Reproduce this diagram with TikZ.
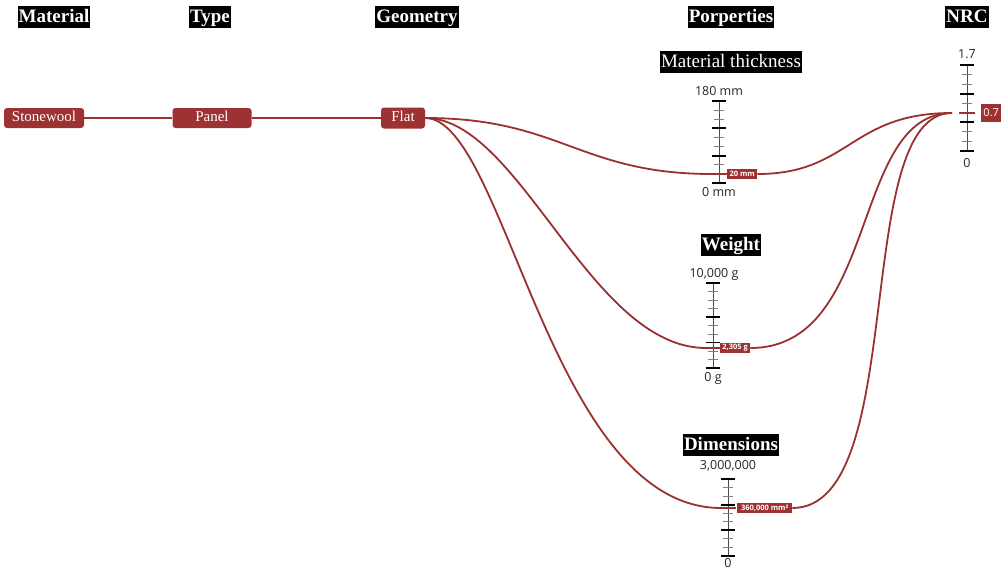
\documentclass[tikz,border=0pt]{standalone}
\usepackage{fontspec}
\setmainfont{Liberation Serif}
\newfontfamily\axfont{Open Sans}
\usetikzlibrary{calc}
\definecolor{wine}{HTML}{9E3232}
\definecolor{wirecol}{HTML}{9A3030}

% vertical gauge: #1 x, #2 top y, #3 bottom y, #4 intervals, #5 major tick indices
\newcommand\gaugeaxis[5]{%
  \draw[axline] (#1,#2) -- (#1,#3);
  \foreach \k in {0,...,#4}{%
    \draw[minortick] ({#1-5},{#3-(#3-#2)*\k/#4}) -- ({#1+5},{#3-(#3-#2)*\k/#4});}
  \foreach \k in {#5}{%
    \draw[majortick] ({#1-7},{#3-(#3-#2)*\k/#4}) -- ({#1+7},{#3-(#3-#2)*\k/#4});}
}

\begin{document}
\begin{tikzpicture}[x=1pt,y=-1pt,
  hdr/.style={fill=black,text=white,font=\bfseries\fontsize{19}{19}\selectfont,
    inner xsep=1pt,inner ysep=2pt,text height=14pt,text depth=4pt},
  subhdr/.style={hdr,font=\fontsize{19}{19}\selectfont},
  cat/.style={fill=wine,text=white,rounded corners=3pt,font=\fontsize{15}{15}\selectfont,
    minimum height=20pt,inner xsep=2pt,text height=10pt,text depth=3pt},
  wire/.style={draw=wirecol,line width=1.8pt},
  val/.style={fill=wine,text=white,font=\axfont\bfseries\fontsize{7.5}{7.5}\selectfont,
    inner xsep=2pt,inner ysep=1pt,minimum height=10pt,anchor=west},
  axlab/.style={font=\axfont\fontsize{12.5}{12.5}\selectfont,text=black!85,inner sep=0pt},
  axline/.style={draw=black!70,line width=0.8pt},
  minortick/.style={draw=black!50,line width=0.9pt},
  majortick/.style={draw=black,line width=1.7pt},
  marker/.style={draw=wine,line width=2pt},
]
\useasboundingbox[fill=white] (0,0) rectangle (1001,571);

% column headings
\node[hdr] (hMat) at (54,17) {Material};
\node[hdr] (hType) at (210,17) {Type};
\node[hdr] (hGeo) at (417,17) {Geometry};
\node[hdr] (hProp) at (731,17) {Porperties};
\node[hdr] (hNrc) at (967,17) {NRC};

% property headings
\node[subhdr] (hThick) at (731,62) {Material thickness};
\node[hdr] (hWeight) at (731,245) {Weight};
\node[hdr] (hDim) at (731,445) {Dimensions};

% category chain
\node[cat,minimum width=80pt] (stone) at (44,118) {Stonewool};
\node[cat,minimum width=79pt] (panel) at (212,118) {Panel};
\node[cat,minimum width=44pt,minimum height=21pt] (flat) at (403,118) {Flat};

\draw[wire] (stone) -- (panel);
\draw[wire] (panel) -- (flat);

% gauges
\gaugeaxis{719}{101}{183}{9}{0,3,6,9}
\gaugeaxis{713}{283}{368}{10}{0,3,6,10}
\gaugeaxis{728}{479}{556}{9}{0,3,6,9}
\gaugeaxis{967}{65}{151}{9}{0,3,6,9}

% gauge end labels
\node[axlab] (tTop) at (719,91) {180 mm};
\node[axlab] (tBot) at (719,192) {0 mm};
\node[axlab] (wTop) at (714,274) {10,000 g};
\node[axlab] (wBot) at (713,378) {0 g};
\node[axlab] (dTop) at (728,466) {3,000,000};
\node[axlab] (dBot) at (728,563) {0};
\node[axlab] (nTop) at (967,54) {1.7};
\node[axlab] (nBot) at (967,163) {0};

% value markers
\draw[marker] (711,174) -- (727,174);
\draw[marker] (705,348) -- (721,348);
\draw[marker] (720,508) -- (736,508);
\draw[marker] (959,113) -- (975,113);

% value labels
\node[val,minimum width=30pt] (vT) at (727,174) {20 mm};
\node[val,minimum width=30pt] (vW) at (720,348) {2,305 g};
\node[val,minimum width=55pt] (vD) at (737,508) {360,000 mm²};
\node[val,font=\axfont\fontsize{11}{11}\selectfont,minimum width=20pt,minimum height=18pt] (vN) at (981,113) {0.7};

% wire ends
\coordinate (cT) at (712,174);
\coordinate (cW) at (706,348);
\coordinate (cD) at (721,508);
\coordinate (cN) at (952,113);

% wires through the properties to NRC
\draw[wire] (flat.east) .. controls (560,118) and (580,174) .. (cT);
\draw[wire] (flat.east) .. controls (520,118) and (590,348) .. (cW);
\draw[wire] (flat.east) .. controls (505,118) and (550,508) .. (cD);
\draw[wire] (vT.east) .. controls (850,174) and (850,113) .. (cN);
\draw[wire] (vW.east) .. controls (880,348) and (850,113) .. (cN);
\draw[wire] (vD.east) .. controls (910,508) and (850,113) .. (cN);
\end{tikzpicture}
\end{document}
